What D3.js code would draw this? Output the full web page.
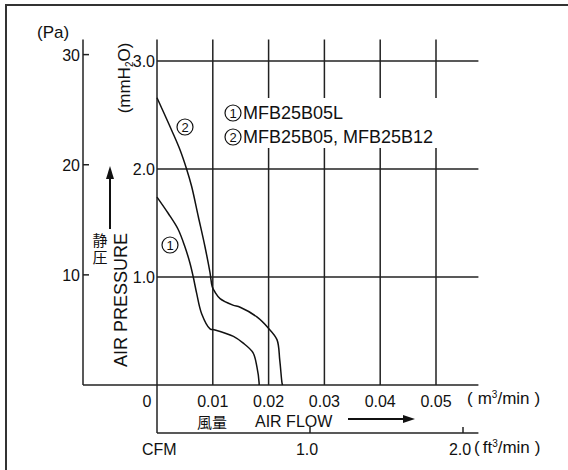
<!DOCTYPE html>
<html>
<head>
<meta charset="utf-8">
<script src="https://cdn.jsdelivr.net/npm/d3@7"></script>
<style>
  body { margin: 0; background: #fff; }
  text { font-family: "Liberation Sans", Arial, sans-serif; fill: #111; }
</style>
</head>
<body>
<script>
// curve 1: MFB25B05L  (m3/min , mmH2O)
let flow1 = [0, 0.0020, 0.0038, 0.0050, 0.0059, 0.0065, 0.0071, 0.0080, 0.0095, 0.0104, 0.0137, 0.0154, 0.0172, 0.0179, 0.0183, 0.0183]
let pres1 = [1.74, 1.59, 1.44, 1.28, 1.13, 1.00, 0.85, 0.66, 0.52, 0.51, 0.45, 0.39, 0.30, 0.17, 0.02, 0]

// curve 2: MFB25B05, MFB25B12
let flow2 = [0, 0.0027, 0.0041, 0.0053, 0.0062, 0.0074, 0.0086, 0.0095, 0.0099, 0.0104, 0.0113, 0.0136, 0.0149, 0.0179, 0.0199, 0.0215, 0.0220, 0.0224, 0.0225]
let pres2 = [2.66, 2.35, 2.18, 2.00, 1.84, 1.56, 1.28, 1.04, 0.91, 0.86, 0.80, 0.74, 0.72, 0.63, 0.53, 0.42, 0.23, 0.02, 0]

let xTicks = [0.01, 0.02, 0.03, 0.04, 0.05]
let xTickLabels = ["0.01", "0.02", "0.03", "0.04", "0.05"]
let yTicks = [1, 2, 3]
let yTickLabels = ["1.0", "2.0", "3.0"]
let paTicks = [10, 20, 30]
let cfmTicks = [1, 2]
let cfmTickLabels = ["1.0", "2.0"]
let legendMarks = ["1", "2"]
let legendNames = ["MFB25B05L", "MFB25B05, MFB25B12"]

let PA_PER_MM = 9.80665

let svg = d3.select("body")
    .append("svg")
    .attr("width", 568)
    .attr("height", 470)

// scales
let x = d3.scaleLinear().domain([0, 0.05]).range([157, 436])
let y = d3.scaleLinear().domain([0, 3]).range([385, 61])
let yPa = d3.scaleLinear().domain([0, 30]).range([385, 385 - 30 / PA_PER_MM * 108])
let xCfm = d3.scaleLinear().domain([0, 2]).range([157, 463])

let xEnd = x(0.0576)
let yTop = y(3.2)

// frame
svg.append("path")
    .attr("d", "M6,470 L6,5 L568,5")
    .attr("fill", "none")
    .attr("stroke", "#333")
    .attr("stroke-width", 2)

let grid = svg.append("g")
    .attr("stroke", "#222")
    .attr("stroke-width", 1.5)
    .attr("fill", "none")

// horizontal grid lines + bottom line
grid.selectAll(".hline")
    .data(yTicks)
    .join("line")
    .attr("x1", x(0))
    .attr("x2", xEnd)
    .attr("y1", d => y(d))
    .attr("y2", d => y(d))

grid.append("line")
    .attr("x1", 83).attr("x2", xEnd)
    .attr("y1", y(0)).attr("y2", y(0))

// vertical grid lines, with a gap behind the legend
let gapTop = 98, gapBottom = 148
grid.selectAll(".vline")
    .data(xTicks)
    .join("path")
    .attr("d", d => {
        let xx = x(d)
        if (xx > 220)
            return "M" + xx + "," + yTop + "V" + gapTop + "M" + xx + "," + gapBottom + "V" + y(0)
        return "M" + xx + "," + yTop + "V" + y(0)
    })

// main left axis (goes down to the CFM axis)
grid.append("line")
    .attr("x1", x(0)).attr("x2", x(0))
    .attr("y1", yTop).attr("y2", 433)

// Pa axis
grid.append("line")
    .attr("x1", 83).attr("x2", 83)
    .attr("y1", yTop).attr("y2", y(0))

grid.selectAll(".patick")
    .data(paTicks)
    .join("line")
    .attr("x1", 83).attr("x2", 89)
    .attr("y1", d => yPa(d)).attr("y2", d => yPa(d))

// CFM axis
grid.append("line")
    .attr("x1", x(0)).attr("x2", xEnd)
    .attr("y1", 433).attr("y2", 433)

grid.selectAll(".cfmtick")
    .data(cfmTicks)
    .join("line")
    .attr("x1", d => xCfm(d)).attr("x2", d => xCfm(d))
    .attr("y1", 427).attr("y2", 433)

// curves
let line = d3.line()
    .x(d => x(d[0]))
    .y(d => y(d[1]))
    .curve(d3.curveCatmullRom.alpha(0.5))

let curves = [d3.zip(flow1, pres1), d3.zip(flow2, pres2)]

svg.append("g")
    .selectAll("path")
    .data(curves)
    .join("path")
    .attr("d", line)
    .attr("fill", "none")
    .attr("stroke", "#111")
    .attr("stroke-width", 1.5)

// tick labels
svg.selectAll(".ylab")
    .data(yTicks)
    .join("text")
    .attr("x", 155)
    .attr("y", d => y(d) + 6)
    .attr("text-anchor", "end")
    .attr("font-size", 16)
    .text((d, i) => yTickLabels[i])

svg.selectAll(".palab")
    .data(paTicks)
    .join("text")
    .attr("x", 80)
    .attr("y", d => yPa(d) + 6)
    .attr("text-anchor", "end")
    .attr("font-size", 16)
    .text(d => d)

svg.append("text")
    .attr("x", 37).attr("y", 38)
    .attr("font-size", 17)
    .text("(Pa)")

svg.selectAll(".xlab")
    .data(xTicks)
    .join("text")
    .attr("x", d => x(d))
    .attr("y", 407)
    .attr("text-anchor", "middle")
    .attr("font-size", 16)
    .text((d, i) => xTickLabels[i])

svg.append("text")
    .attr("x", x(0) - 10).attr("y", 407)
    .attr("text-anchor", "middle")
    .attr("font-size", 16)
    .text("0")

let mUnit = svg.append("text")
    .attr("x", 467).attr("y", 404)
    .attr("font-size", 17)
mUnit.append("tspan").text("(")
mUnit.append("tspan").attr("dx", 5).text("m")
mUnit.append("tspan").attr("font-size", 10).attr("dy", -6).text("3")
mUnit.append("tspan").attr("dy", 6).text("/min")
mUnit.append("tspan").attr("dx", 5).text(")")

svg.selectAll(".cfmlab")
    .data(cfmTicks)
    .join("text")
    .attr("x", d => xCfm(d) - 3)
    .attr("y", 455)
    .attr("text-anchor", "middle")
    .attr("font-size", 16)
    .text((d, i) => cfmTickLabels[i])

svg.append("text")
    .attr("x", 142).attr("y", 455)
    .attr("font-size", 16)
    .text("CFM")

let fUnit = svg.append("text")
    .attr("x", 474).attr("y", 453)
    .attr("font-size", 17)
fUnit.append("tspan").text("(")
fUnit.append("tspan").attr("dx", 3).text("ft")
fUnit.append("tspan").attr("font-size", 10).attr("dy", -6).text("3")
fUnit.append("tspan").attr("dy", 6).text("/min")
fUnit.append("tspan").attr("dx", 5).text(")")

// x title
svg.append("text")
    .attr("x", 197).attr("y", 428)
    .attr("font-size", 15)
    .style("font-family", "'Noto Sans CJK JP'")
    .text("風量")

svg.append("text")
    .attr("x", 255).attr("y", 427)
    .attr("font-size", 16)
    .text("AIR FLOW")

svg.append("line")
    .attr("x1", 348).attr("x2", 405)
    .attr("y1", 419).attr("y2", 419)
    .attr("stroke", "#111").attr("stroke-width", 2)
svg.append("path")
    .attr("d", "M415,419 L403,415 L403,423 Z")
    .attr("fill", "#111")

// y titles
let mmH2O = svg.append("text")
    .attr("transform", "translate(130,78) rotate(-90)")
    .attr("text-anchor", "middle")
    .attr("font-size", 17)
mmH2O.append("tspan").text("(mmH")
mmH2O.append("tspan").attr("font-size", 10).attr("dy", 3).text("2")
mmH2O.append("tspan").attr("dy", -3).text("O)")

svg.append("text")
    .attr("transform", "translate(127,300) rotate(-90)")
    .attr("text-anchor", "middle")
    .attr("font-size", 18)
    .text("AIR PRESSURE")

// vertical japanese label
svg.append("text")
    .attr("x", 100)
    .attr("y", 233)
    .attr("font-size", 15)
    .style("font-family", "'Noto Sans CJK JP'")
    .style("writing-mode", "vertical-rl")
    .style("letter-spacing", "2px")
    .text("静圧")

svg.append("line")
    .attr("x1", 110).attr("x2", 110)
    .attr("y1", 229).attr("y2", 176)
    .attr("stroke", "#111").attr("stroke-width", 2)
svg.append("path")
    .attr("d", "M110,166 L106,179 L114,179 Z")
    .attr("fill", "#111")

// circled number marks
function circled(g, cx, cy, label) {
    g.append("circle")
        .attr("cx", cx).attr("cy", cy).attr("r", 8)
        .attr("fill", "none")
        .attr("stroke", "#111")
        .attr("stroke-width", 1.2)
    g.append("text")
        .attr("x", cx).attr("y", cy + 5)
        .attr("text-anchor", "middle")
        .attr("font-size", 13)
        .text(label)
}

let marks = svg.append("g")
circled(marks, 170, 245, "1")
circled(marks, 185, 127, "2")

// legend
legendNames.forEach((name, i) => {
    let yy = 113 + i * 24
    circled(svg, 233, yy, legendMarks[i])
    svg.append("text")
        .attr("x", 243)
        .attr("y", yy + 6)
        .attr("font-size", 18)
        .text(name)
})
</script>
</body>
</html>
